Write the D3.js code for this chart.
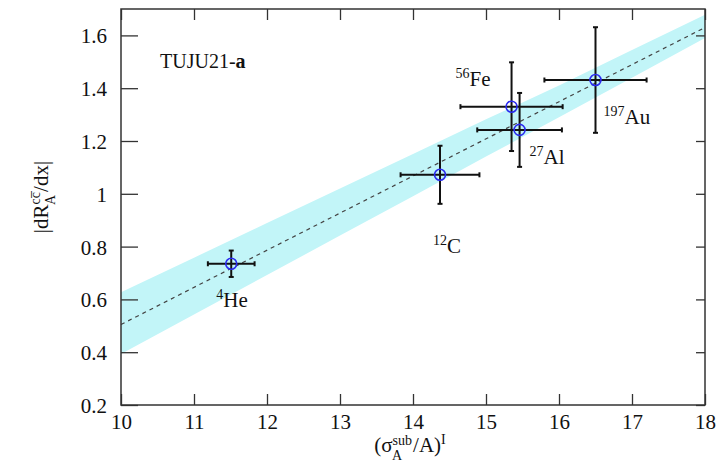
<!DOCTYPE html>
<html>
<head>
<meta charset="utf-8">
<script src="https://cdn.jsdelivr.net/npm/d3@7"></script>
<style>
  body { margin: 0; background: #fff; }
  text { font-family: "Liberation Serif", "DejaVu Serif", serif; fill: #111; }
</style>
</head>
<body>
<script>
// nuclei, points and errors
var nuclei = ["He", "C", "Fe", "Al", "Au"];
var massNum = ["4", "12", "56", "27", "197"];
var xVal = [11.51, 14.37, 15.35, 15.46, 16.50];
var xErr = [0.32, 0.54, 0.70, 0.58, 0.70];
var yVal = [0.735, 1.072, 1.330, 1.242, 1.431];
var yErr = [0.05, 0.11, 0.168, 0.14, 0.20];

// fit line and its band
var fitX = [10, 18];
var fitY = [0.505, 1.630];
var bandX = [10, 11, 12, 13, 14, 15, 16, 17, 18];
var bandLo = [0.393, 0.543, 0.692, 0.842, 0.991, 1.141, 1.290, 1.440, 1.590];
var bandHi = [0.627, 0.758, 0.889, 1.020, 1.151, 1.282, 1.410, 1.545, 1.678];

var xTicks = [10, 11, 12, 13, 14, 15, 16, 17, 18];
var yTicks = [0.2, 0.4, 0.6, 0.8, 1.0, 1.2, 1.4, 1.6];
var yTickLabels = ["0.2", "0.4", "0.6", "0.8", "1", "1.2", "1.4", "1.6"];

var W = 723, H = 467;
var L = 121, R = 705, T = 9, B = 405;

var svg = d3.select("body").append("svg").attr("width", W).attr("height", H);

var x = d3.scaleLinear().domain([10, 18]).range([L, R]);
var y = d3.scaleLinear().domain([0.2, 1.7]).range([B, T]);

// band
var band = bandX.map(function (v, i) { return {x: v, lo: bandLo[i], hi: bandHi[i]}; });
svg.append("path")
  .datum(band)
  .attr("fill", "#c2f5f8")
  .attr("d", d3.area().x(function (d) { return x(d.x); })
    .y0(function (d) { return y(d.lo); })
    .y1(function (d) { return y(d.hi); }));

// dashed fit
svg.append("path")
  .datum(fitX.map(function (v, i) { return [v, fitY[i]]; }))
  .attr("fill", "none")
  .attr("stroke", "#444")
  .attr("stroke-width", 1.2)
  .attr("stroke-dasharray", "4,4")
  .attr("d", d3.line().x(function (d) { return x(d[0]); }).y(function (d) { return y(d[1]); }));

// axes, ticks pointing inward
var minorX = d3.range(10, 18.01, 0.2);
var minorY = d3.range(0.2, 1.701, 0.05);

function noLabel(a) { return a.tickFormat(""); }

var gb = svg.append("g").attr("transform", "translate(0," + B + ")");
gb.call(noLabel(d3.axisBottom(x).tickValues(minorX).tickSizeInner(-5).tickSizeOuter(0)));
gb.call(d3.axisBottom(x).tickValues(xTicks).tickSizeInner(-11).tickSizeOuter(0).tickPadding(8)
  .tickFormat(d3.format("d")));

var gt = svg.append("g").attr("transform", "translate(0," + T + ")");
gt.call(noLabel(d3.axisTop(x).tickValues(minorX).tickSizeInner(-6).tickSizeOuter(0)));
gt.call(noLabel(d3.axisTop(x).tickValues(xTicks).tickSizeInner(-11).tickSizeOuter(0)));

var gl = svg.append("g").attr("transform", "translate(" + L + ",0)");
gl.call(noLabel(d3.axisLeft(y).tickValues(minorY).tickSizeInner(-8).tickSizeOuter(0)));
gl.call(d3.axisLeft(y).tickValues(yTicks).tickSizeInner(-17).tickSizeOuter(0).tickPadding(14)
  .tickFormat(function (d, i) { return yTickLabels[i]; }));

var gr = svg.append("g").attr("transform", "translate(" + R + ",0)");
gr.call(noLabel(d3.axisRight(y).tickValues(minorY).tickSizeInner(-5).tickSizeOuter(0)));
gr.call(noLabel(d3.axisRight(y).tickValues(yTicks).tickSizeInner(-9).tickSizeOuter(0)));

svg.selectAll(".domain").remove();
svg.selectAll(".tick line").attr("stroke", "#333").attr("stroke-width", 1.3);
svg.selectAll(".tick text")
  .style("font-family", "Liberation Serif, serif")
  .style("font-size", "21px")
  .attr("fill", "#111");
gl.selectAll(".tick text").attr("dy", "0.36em");
gb.selectAll(".tick text").attr("dy", "0.75em");

svg.append("rect")
  .attr("x", L).attr("y", T).attr("width", R - L).attr("height", B - T)
  .attr("fill", "none").attr("stroke", "#333").attr("stroke-width", 1.5);

// error bars
var pts = nuclei.map(function (n, i) {
  return {n: n, a: massNum[i], x: xVal[i], y: yVal[i], ex: xErr[i], ey: yErr[i]};
});
var eb = svg.append("g").attr("stroke", "#111").attr("stroke-width", 2);
pts.forEach(function (d) {
  var cx = x(d.x), cy = y(d.y);
  var x0 = x(d.x - d.ex), x1 = x(d.x + d.ex), y0 = y(d.y - d.ey), y1 = y(d.y + d.ey);
  eb.append("line").attr("x1", x0).attr("x2", x1).attr("y1", cy).attr("y2", cy);
  eb.append("line").attr("x1", cx).attr("x2", cx).attr("y1", y0).attr("y2", y1);
  eb.append("line").attr("x1", x0).attr("x2", x0).attr("y1", cy - 2.5).attr("y2", cy + 2.5);
  eb.append("line").attr("x1", x1).attr("x2", x1).attr("y1", cy - 2.5).attr("y2", cy + 2.5);
  eb.append("line").attr("x1", cx - 2.5).attr("x2", cx + 2.5).attr("y1", y0).attr("y2", y0);
  eb.append("line").attr("x1", cx - 2.5).attr("x2", cx + 2.5).attr("y1", y1).attr("y2", y1);
});

svg.selectAll("circle.pt").data(pts).enter().append("circle")
  .attr("class", "pt")
  .attr("cx", function (d) { return x(d.x); })
  .attr("cy", function (d) { return y(d.y); })
  .attr("r", 5.5)
  .attr("fill", "none")
  .attr("stroke", "#2b2bf0")
  .attr("stroke-width", 1.6);

// nucleus labels, offsets from the point in px
var labOff = [[-15, 43], [-7, 78], [-56, -21], [10, 34], [8, 44]];
pts.forEach(function (d, i) {
  var t = svg.append("text")
    .attr("x", x(d.x) + labOff[i][0])
    .attr("y", y(d.y) + labOff[i][1])
    .style("font-size", "21px");
  t.append("tspan").attr("dy", -8).style("font-size", "14px").text(d.a);
  t.append("tspan").attr("dy", 8).text(d.n);
});

// title
var ttl = svg.append("text").attr("x", 160).attr("y", 68).style("font-size", "20px");
ttl.append("tspan").text("TUJU21-");
ttl.append("tspan").style("font-weight", "bold").text("a");

// x axis title
var xt = svg.append("text").attr("x", 410).attr("y", 452).attr("text-anchor", "middle")
  .style("font-size", "21px");
xt.append("tspan").text("(σ");
xt.append("tspan").attr("dy", -7).style("font-size", "14px").text("sub");
xt.append("tspan").attr("dx", -20).attr("dy", 15).style("font-size", "14px").text("A");
xt.append("tspan").attr("dx", 11).attr("dy", -8).text("/A)");
xt.append("tspan").attr("dy", -8).style("font-size", "14px").text("I");

// y axis title
var yt = svg.append("text").attr("transform", "translate(48,197) rotate(-90)")
  .attr("text-anchor", "middle").style("font-size", "21px");
yt.append("tspan").text("|dR");
yt.append("tspan").attr("dy", -8).style("font-size", "14px").text("cc\u0305");
yt.append("tspan").attr("dx", -13).attr("dy", 15).style("font-size", "14px").text("A");
yt.append("tspan").attr("dx", 3).attr("dy", -7).text("/dx|");
</script>
</body>
</html>
